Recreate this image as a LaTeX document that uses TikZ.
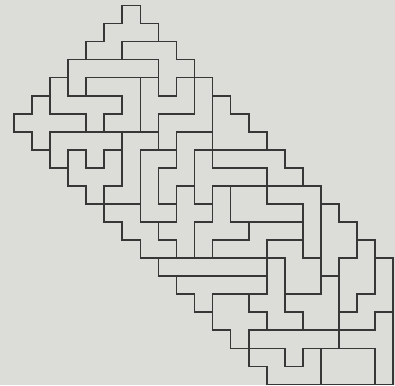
\documentclass[tikz,border=0pt]{standalone}
\definecolor{paper}{RGB}{220,220,217}
\definecolor{hexink}{RGB}{55,55,55}
\tikzset{hexline/.style={draw=hexink,line width=1.7pt,line cap=rect}}
\ExplSyntaxOn
\int_new:N \g_hex_n_int
\tl_new:N \g_hex_cmd_tl
\cs_new_protected:Npn \hexrow #1
  {
    \int_gincr:N \g_hex_n_int
    \tl_gclear_new:c { g_hex_row_ \int_use:N \g_hex_n_int _tl }
    \tl_gset:cn { g_hex_row_ \int_use:N \g_hex_n_int _tl } { #1 }
  }
\cs_new:Npn \hex_item:nn #1#2
  { \tl_item:cn { g_hex_row_ \int_eval:n {#1} _tl } { #2 } }
\cs_new_protected:Npn \hexbuild
  {
    \tl_gset:Nn \g_hex_cmd_tl { \draw[hexline] }
    \int_step_variable:nNn { \g_hex_n_int } \l_hex_i_tl
      {
        \int_step_variable:nNn { 23 } \l_hex_j_tl
          {
            \int_compare:nNnT { \l_hex_j_tl } < { 23 }
              {
                \str_if_eq:eeF
                  { \hex_item:nn { \l_hex_i_tl } { \l_hex_j_tl } }
                  { \hex_item:nn { \l_hex_i_tl } { \l_hex_j_tl + 1 } }
                  {
                    \tl_gput_right:Ne \g_hex_cmd_tl
                      {
                        ( \int_eval:n { \l_hex_j_tl - 1 } , \int_eval:n { 2 - \l_hex_i_tl } )
                        --
                        ( \int_eval:n { \l_hex_j_tl - 1 } , \int_eval:n { 1 - \l_hex_i_tl } )
                      }
                  }
              }
            \int_compare:nNnT { \l_hex_i_tl } < { \g_hex_n_int }
              {
                \str_if_eq:eeF
                  { \hex_item:nn { \l_hex_i_tl } { \l_hex_j_tl } }
                  { \hex_item:nn { \l_hex_i_tl + 1 } { \l_hex_j_tl } }
                  {
                    \tl_gput_right:Ne \g_hex_cmd_tl
                      {
                        ( \int_eval:n { \l_hex_j_tl - 2 } , \int_eval:n { 1 - \l_hex_i_tl } )
                        --
                        ( \int_eval:n { \l_hex_j_tl - 1 } , \int_eval:n { 1 - \l_hex_i_tl } )
                      }
                  }
              }
          }
      }
    \tl_gput_right:Nn \g_hex_cmd_tl { ; }
    \tl_use:N \g_hex_cmd_tl
  }
\ExplSyntaxOff
% piece map: one letter per cell (35 hexominoes), '.' outside, padded by one cell all round
\hexrow{.......................}
\hexrow{.......A...............}
\hexrow{......AAA..............}
\hexrow{.....AABBB.............}
\hexrow{....CCCCCBB............}
\hexrow{...DCEEEFBFg...........}
\hexrow{..XDDDDEFFFgv..........}
\hexrow{.XXXXDEEFgggvv.........}
\hexrow{..XGGGGIIgyyvvv........}
\hexrow{...GHGHIwwybuuuu.......}
\hexrow{....HHHIwyybbbbuu......}
\hexrow{.....HIIwyzbfeeSSS.....}
\hexrow{......JJwwzzfeeeeSs....}
\hexrow{.......JJzzfffdddSss...}
\hexrow{........JJzfdddhhSsst..}
\hexrow{.........PPPPPPkhhsttM.}
\hexrow{..........QQQQQkhhnttM.}
\hexrow{...........QRRkknnntMM.}
\hexrow{............RRRkknnMML.}
\hexrow{.............ROOOOOLLL.}
\hexrow{..............NNONKKKL.}
\hexrow{...............NNNKKKL.}
\hexrow{.......................}
\begin{document}
\begin{tikzpicture}[x=18pt,y=18pt]
\useasboundingbox (-0.776,0.30) rectangle (21.108,-21.03);
\fill[paper] (-0.776,0.30) rectangle (21.108,-21.03);
\hexbuild
\end{tikzpicture}
\end{document}
